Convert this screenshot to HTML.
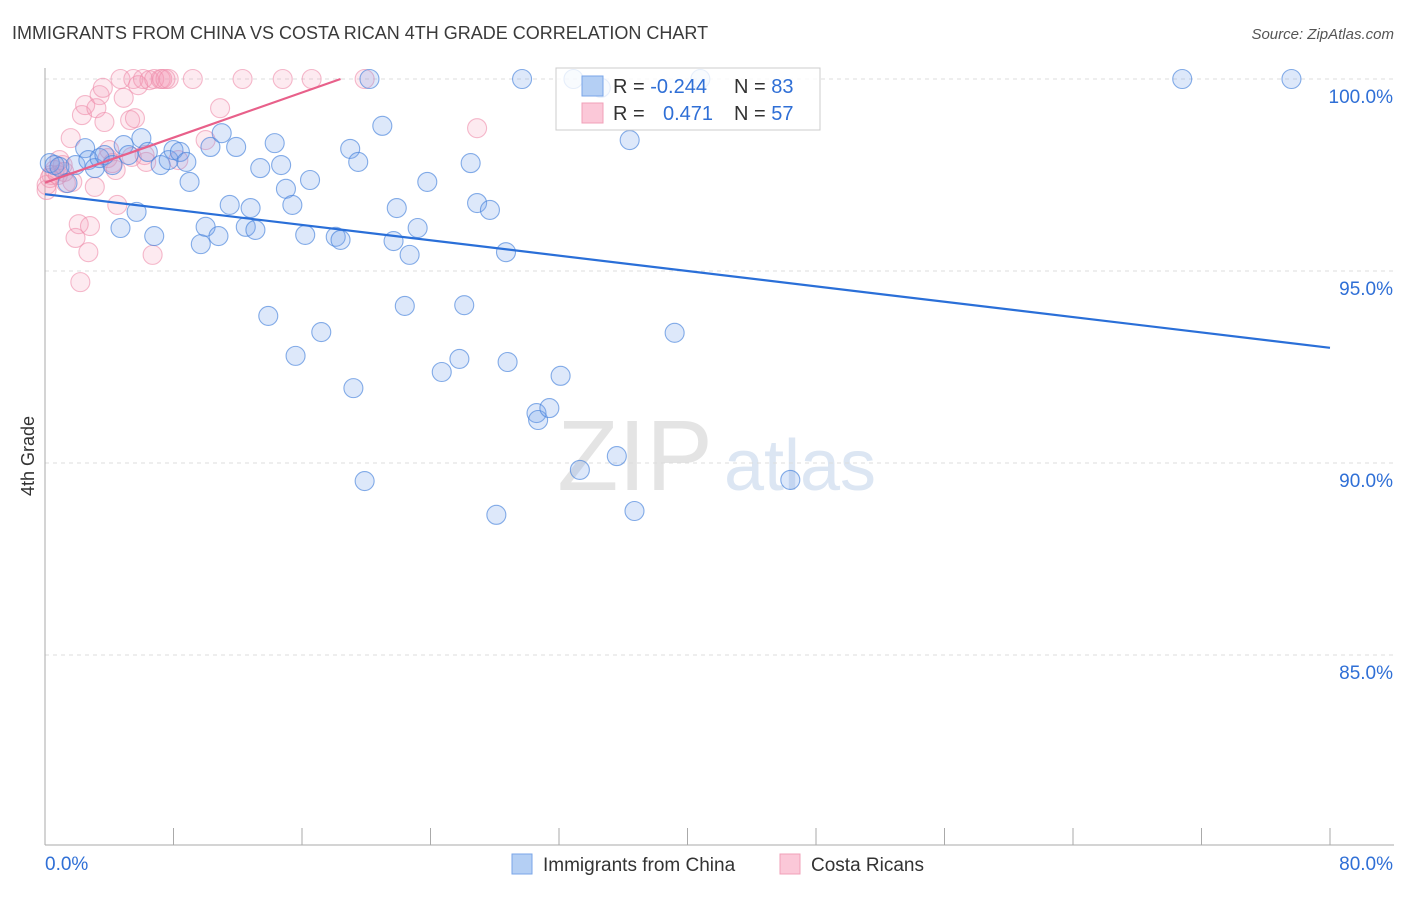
<!DOCTYPE html>
<html><head><meta charset="utf-8"><style>
body{margin:0;background:#fff;font-family:"Liberation Sans",sans-serif;}
svg text{font-family:"Liberation Sans",sans-serif;}
</style></head><body>
<svg width="1406" height="892" xmlns="http://www.w3.org/2000/svg">
<text x="12" y="39" font-size="18" fill="#3a3a3a">IMMIGRANTS FROM CHINA VS COSTA RICAN 4TH GRADE CORRELATION CHART</text>
<text x="1394" y="39" font-size="15" fill="#555" font-style="italic" text-anchor="end">Source: ZipAtlas.com</text>
<text x="0" y="0" font-size="18" fill="#333" transform="translate(34,456) rotate(-90)" text-anchor="middle">4th Grade</text>
<g>
<text x="635" y="490" font-size="100" fill="#e4e4e4" font-family="Liberation Serif" text-anchor="middle">ZIP</text>
<text x="800" y="490" font-size="72" fill="#dce6f3" text-anchor="middle">atlas</text>
</g>
<g id="grid"></g>
<g id="axes"></g>
<g id="marks"></g>
<g>
<rect x="556" y="68" width="264" height="62" fill="rgba(255,255,255,0.8)" stroke="#ccc"/>
<rect x="582" y="76" width="21" height="20" fill="#b4cff4" stroke="#7aa6e8"/>
<rect x="582" y="103" width="21" height="20" fill="#fbc8d8" stroke="#f0a0b8"/>
<text x="613" y="93" font-size="20" fill="#333">R = <tspan fill="#2f6fd6">-0.244</tspan></text>
<text x="734" y="93" font-size="20" fill="#333">N = <tspan fill="#2f6fd6">83</tspan></text>
<text x="613" y="120" font-size="20" fill="#333">R = </text>
<text x="663" y="120" font-size="20" fill="#2f6fd6">0.471</text>
<text x="734" y="120" font-size="20" fill="#333">N = <tspan fill="#2f6fd6">57</tspan></text>
</g>
<g>
<rect x="512" y="854" width="20" height="20" fill="#b4cff4" stroke="#7aa6e8"/>
<text x="543" y="871" font-size="19" fill="#333">Immigrants from China</text>
<rect x="780" y="854" width="20" height="20" fill="#fbc8d8" stroke="#f0a0b8"/>
<text x="811" y="871" font-size="19" fill="#333">Costa Ricans</text>
</g>
</svg>
<script>
const blueX=[0.3,0.6,0.9,1.4,1.9,2.5,2.7,3.1,3.4,3.7,4.2,4.7,4.9,5.2,5.7,6.0,6.4,6.8,7.2,7.7,8.0,8.4,8.8,9.0,9.7,10.0,10.3,10.8,11.0,11.5,11.9,12.5,12.8,13.1,13.4,13.9,14.3,14.7,15.0,15.4,15.6,16.2,16.5,17.2,18.1,18.4,19.0,19.2,19.5,19.9,21.0,21.7,21.9,22.4,22.7,23.2,23.8,24.7,25.8,26.1,26.5,26.9,27.7,28.1,28.7,28.8,29.7,30.6,30.7,31.4,32.1,32.9,33.3,34.6,35.6,36.4,36.7,39.2,40.8,46.4,70.8,77.6,20.2];
const blueY=[97.81,97.76,97.71,97.29,97.76,98.20,97.89,97.68,97.94,98.02,97.76,96.12,98.28,98.02,96.54,98.46,98.10,95.91,97.76,97.89,98.15,98.10,97.84,97.32,95.70,96.15,98.23,95.91,98.59,96.72,98.23,96.15,96.64,96.07,97.68,93.83,98.33,97.76,97.14,96.72,92.79,95.94,97.37,93.41,95.89,95.81,98.18,91.95,97.84,89.53,98.78,95.78,96.64,94.09,95.42,96.12,97.32,92.37,92.71,94.11,97.81,96.77,96.59,88.65,95.49,92.63,100,91.30,91.12,91.43,92.27,100,89.82,99.77,90.18,98.41,88.75,93.39,100,89.56,100,100,100];
const pinkX=[0.1,0.3,0.6,0.8,1.1,1.3,1.6,1.7,1.9,2.1,2.2,2.3,2.5,2.7,2.8,3.1,3.2,3.4,3.6,3.7,3.9,4.2,4.4,4.5,4.7,4.9,5.3,5.5,5.6,5.8,6.1,6.3,6.5,6.7,6.8,7.2,7.3,7.5,7.7,8.3,9.2,10.0,10.9,12.3,14.8,16.6,19.9,26.9,0.9,1.2,0.4,4.0,5.4,6.2,0.1];
const pinkY=[97.24,97.42,97.63,97.50,97.76,97.29,98.46,97.32,95.86,96.22,94.71,99.06,99.32,95.49,96.17,97.19,99.24,99.58,99.77,98.88,97.94,97.81,97.63,96.72,100,99.51,98.93,100,98.98,99.84,100,97.84,99.97,95.42,100,100,100,100,100,97.89,100,98.41,99.24,100,100,100,100,98.72,97.89,97.58,97.50,98.15,97.97,98.02,97.11];
const blueTrendX=[0,80], blueTrendY=[97.0,93.0];
const pinkTrendX=[0,18.4], pinkTrendY=[97.3,100];
const yTicks=[100,95,90,85];
const yTickLabels=["100.0%","95.0%","90.0%","85.0%"];
const xTicks=[0,8,16,24,32,40,48,56,64,72,80];
const xEndLabels=["0.0%","80.0%"];

const NS="http://www.w3.org/2000/svg";
const X=v=>45+v*(1285/80);
const Y=v=>79+(100-v)*38.4;
function mk(t,a,p){const e=document.createElementNS(NS,t);for(const k in a)e.setAttribute(k,a[k]);p.appendChild(e);return e;}
const grid=document.getElementById('grid'),axes=document.getElementById('axes'),marks=document.getElementById('marks');
yTicks.forEach((t,i)=>{
 const l=mk('line',{x1:45,x2:1394,y1:Y(t),y2:Y(t),stroke:'#ddd','stroke-dasharray':'4,4'},grid);
 
 
 const tx=mk('text',{x:1393,y:Y(t)+24,'font-size':19,fill:'#2f6fd6','text-anchor':'end'},axes);
 tx.textContent=yTickLabels[i];
 
 
});
const ax=mk('line',{x1:45,x2:45,y1:68,y2:845,stroke:'#aaa'},axes);


const bx=mk('line',{x1:45,x2:1394,y1:845,y2:845,stroke:'#aaa'},axes);


xTicks.forEach(t=>{
 const l=mk('line',{x1:X(t),x2:X(t),y1:828,y2:845,stroke:'#aaa'},axes);
 
 
});
const xl0=mk('text',{x:45,y:870,'font-size':19,fill:'#2f6fd6'},axes);xl0.textContent=xEndLabels[0];


const xl1=mk('text',{x:1393,y:870,'font-size':19,fill:'#2f6fd6','text-anchor':'end'},axes);xl1.textContent=xEndLabels[1];


pinkX.forEach((v,i)=>{
 const c=mk('circle',{cx:X(v),cy:Y(pinkY[i]),r:9.5,fill:'rgba(245,150,180,0.2)',stroke:'rgba(238,140,170,0.6)','stroke-width':1.1},marks);
 
 
});
blueX.forEach((v,i)=>{
 const c=mk('circle',{cx:X(v),cy:Y(blueY[i]),r:9.5,fill:'rgba(120,165,235,0.25)',stroke:'rgba(70,130,220,0.65)','stroke-width':1.1},marks);
 
 
});
const bl=mk('line',{x1:X(blueTrendX[0]),y1:Y(blueTrendY[0]),x2:X(blueTrendX[1]),y2:Y(blueTrendY[1]),stroke:'#2a6fd8','stroke-width':2.2},marks);


const pl=mk('line',{x1:X(pinkTrendX[0]),y1:Y(pinkTrendY[0]),x2:X(pinkTrendX[1]),y2:Y(pinkTrendY[1]),stroke:'#e8608a','stroke-width':2.2},marks);


</script>
</body></html>
